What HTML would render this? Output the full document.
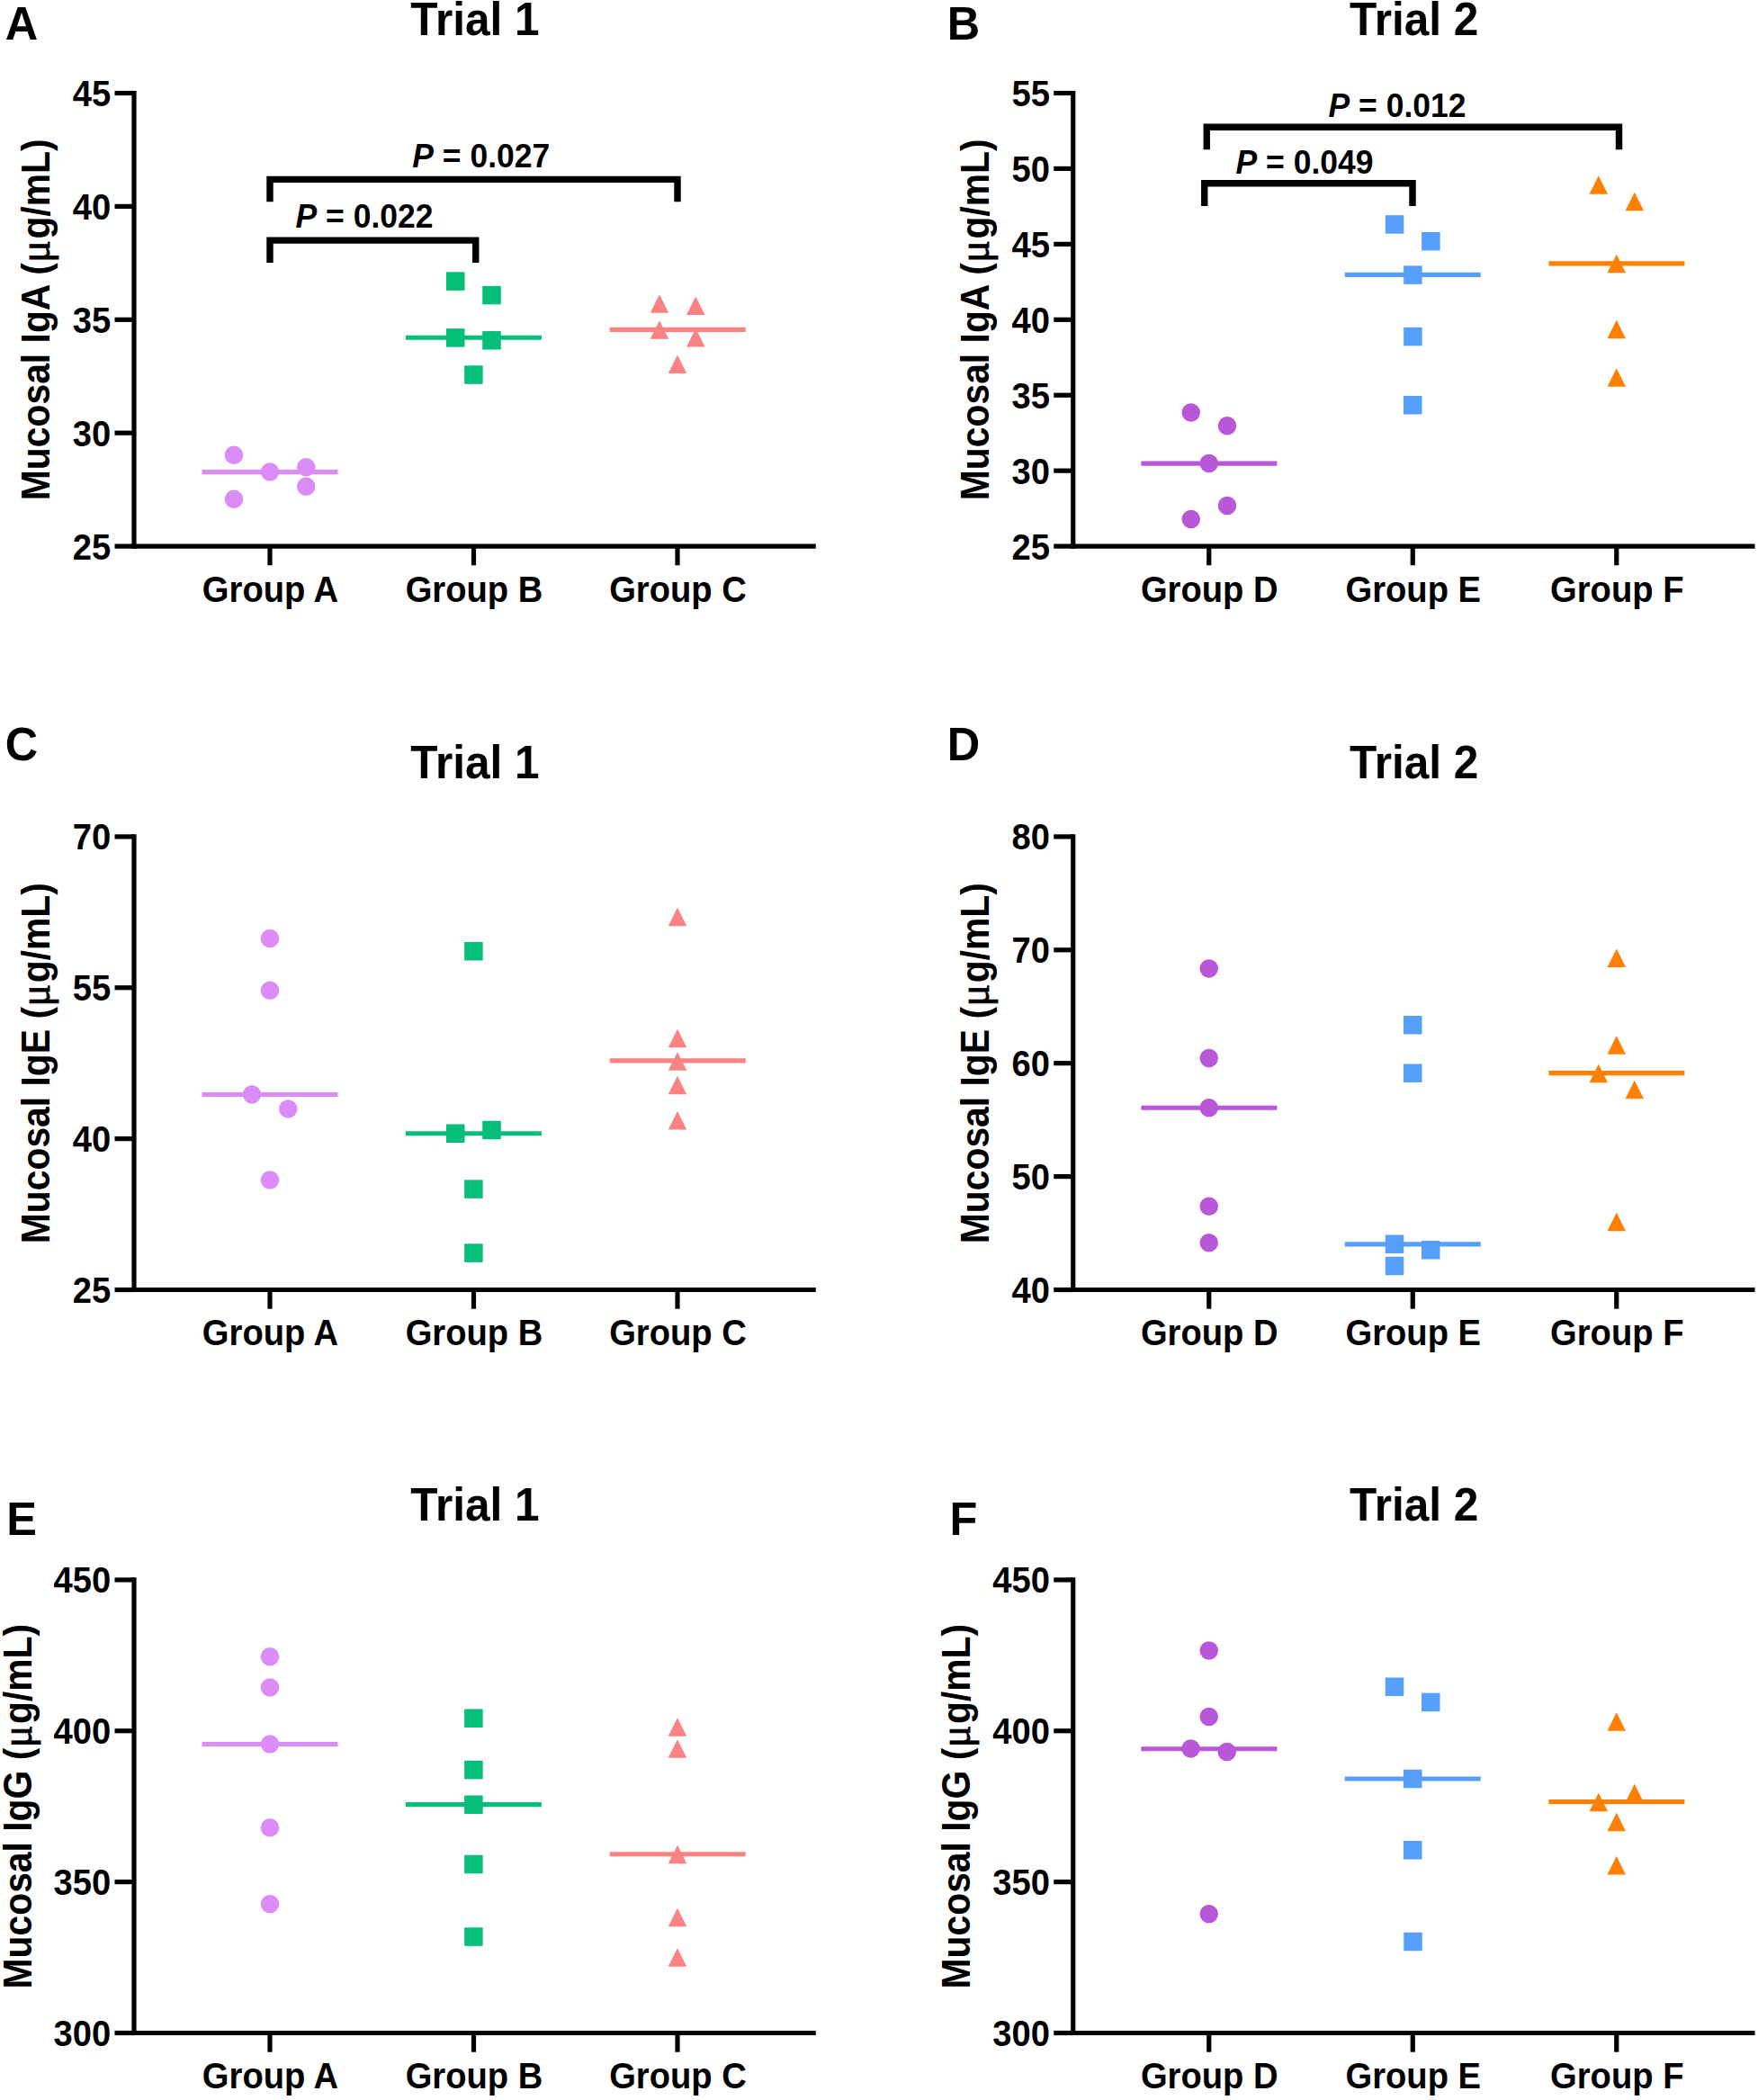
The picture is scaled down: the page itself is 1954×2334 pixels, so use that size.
<!DOCTYPE html>
<html lang="en"><head><meta charset="utf-8"><title>Mucosal immunoglobulin levels</title>
<style>html,body{margin:0;padding:0;background:#fff}svg{display:block}text{font-family:"Liberation Sans", Arial, Helvetica, sans-serif;font-weight:700;fill:#000}</style>
</head><body>
<svg width="1954" height="2334" viewBox="0 0 1954 2334">
<rect width="1954" height="2334" fill="#fff"/>
<g stroke="#000" stroke-width="5.2" fill="none">
<line x1="149.0" y1="100.90" x2="149.0" y2="609.70"/>
<line x1="146.40" y1="607.10" x2="906.75" y2="607.10"/>
<line x1="127.50" y1="103.50" x2="149.0" y2="103.50"/>
<line x1="127.50" y1="229.40" x2="149.0" y2="229.40"/>
<line x1="127.50" y1="355.30" x2="149.0" y2="355.30"/>
<line x1="127.50" y1="481.20" x2="149.0" y2="481.20"/>
<line x1="127.50" y1="607.10" x2="149.0" y2="607.10"/>
<line x1="300.00" y1="607.10" x2="300.00" y2="628.30"/>
<line x1="526.50" y1="607.10" x2="526.50" y2="628.30"/>
<line x1="753.00" y1="607.10" x2="753.00" y2="628.30"/>
</g>
<text transform="translate(123.20,118.00) scale(1,1.0405)" font-size="38.2" text-anchor="end">45</text>
<text transform="translate(123.20,243.90) scale(1,1.0405)" font-size="38.2" text-anchor="end">40</text>
<text transform="translate(123.20,369.80) scale(1,1.0405)" font-size="38.2" text-anchor="end">35</text>
<text transform="translate(123.20,495.70) scale(1,1.0405)" font-size="38.2" text-anchor="end">30</text>
<text transform="translate(123.20,621.60) scale(1,1.0405)" font-size="38.2" text-anchor="end">25</text>
<text transform="translate(300.50,668.80) scale(1,1.0405)" font-size="38.2" text-anchor="middle">Group A</text>
<text transform="translate(527.00,668.80) scale(1,1.0405)" font-size="38.2" text-anchor="middle">Group B</text>
<text transform="translate(753.50,668.80) scale(1,1.0405)" font-size="38.2" text-anchor="middle">Group C</text>
<text transform="translate(528.00,38.75) scale(1,1.0405)" font-size="49.6" text-anchor="middle">Trial 1</text>
<text transform="translate(55.00,355.30) rotate(-90) scale(1,1.065)" font-size="40.85" text-anchor="middle">Mucosal IgA (<tspan font-family="'Liberation Serif', 'DejaVu Serif', serif" font-weight="400" font-size="46" dx="0.5" stroke="#000" stroke-width="0.8">μ</tspan><tspan dx="1.5">g/mL)</tspan></text>
<line x1="224.50" y1="524.60" x2="375.50" y2="524.60" stroke="#DC8CF8" stroke-width="5.2"/>
<circle cx="260.00" cy="505.75" r="10.25" fill="#DC8CF8"/>
<circle cx="300.00" cy="524.50" r="10.25" fill="#DC8CF8"/>
<circle cx="340.25" cy="519.25" r="10.25" fill="#DC8CF8"/>
<circle cx="340.25" cy="540.75" r="10.25" fill="#DC8CF8"/>
<circle cx="260.00" cy="554.75" r="10.25" fill="#DC8CF8"/>
<line x1="450.90" y1="375.25" x2="601.90" y2="375.25" stroke="#05BE78" stroke-width="5.2"/>
<rect x="496.00" y="302.35" width="20.5" height="20.5" fill="#05BE78"/>
<rect x="536.25" y="317.85" width="20.5" height="20.5" fill="#05BE78"/>
<rect x="496.00" y="365.15" width="20.5" height="20.5" fill="#05BE78"/>
<rect x="536.25" y="368.00" width="20.5" height="20.5" fill="#05BE78"/>
<rect x="516.15" y="406.25" width="20.5" height="20.5" fill="#05BE78"/>
<line x1="677.75" y1="366.40" x2="828.75" y2="366.40" stroke="#FA8282" stroke-width="5.2"/>
<polygon points="733.00,327.35 743.25,347.85 722.75,347.85" fill="#FA8282"/>
<polygon points="773.25,329.50 783.50,350.00 763.00,350.00" fill="#FA8282"/>
<polygon points="733.00,356.35 743.25,376.85 722.75,376.85" fill="#FA8282"/>
<polygon points="773.25,365.00 783.50,385.50 763.00,385.50" fill="#FA8282"/>
<polygon points="753.00,394.50 763.25,415.00 742.75,415.00" fill="#FA8282"/>
<polyline points="300.00,292.00 300.00,267.10 528.75,267.10 528.75,292.00" fill="none" stroke="#000" stroke-width="7.4" stroke-linejoin="miter"/>
<polyline points="300.00,224.20 300.00,199.40 753.00,199.40 753.00,224.20" fill="none" stroke="#000" stroke-width="7.4" stroke-linejoin="miter"/>
<text transform="translate(328.50,253.00) scale(1,1.0405)" font-size="35.5" text-anchor="start"><tspan font-style="italic">P</tspan> = 0.022</text>
<text transform="translate(458.30,185.50) scale(1,1.0405)" font-size="35.5" text-anchor="start"><tspan font-style="italic">P</tspan> = 0.027</text>
<text transform="translate(24.00,43.75) scale(1,1.0405)" font-size="50.5" text-anchor="middle">A</text>
<g stroke="#000" stroke-width="5.2" fill="none">
<line x1="1192.75" y1="100.90" x2="1192.75" y2="609.70"/>
<line x1="1190.15" y1="607.10" x2="1950.50" y2="607.10"/>
<line x1="1171.25" y1="103.50" x2="1192.75" y2="103.50"/>
<line x1="1171.25" y1="187.43" x2="1192.75" y2="187.43"/>
<line x1="1171.25" y1="271.37" x2="1192.75" y2="271.37"/>
<line x1="1171.25" y1="355.30" x2="1192.75" y2="355.30"/>
<line x1="1171.25" y1="439.23" x2="1192.75" y2="439.23"/>
<line x1="1171.25" y1="523.17" x2="1192.75" y2="523.17"/>
<line x1="1171.25" y1="607.10" x2="1192.75" y2="607.10"/>
<line x1="1343.75" y1="607.10" x2="1343.75" y2="628.30"/>
<line x1="1570.25" y1="607.10" x2="1570.25" y2="628.30"/>
<line x1="1796.75" y1="607.10" x2="1796.75" y2="628.30"/>
</g>
<text transform="translate(1166.95,118.00) scale(1,1.0405)" font-size="38.2" text-anchor="end">55</text>
<text transform="translate(1166.95,201.93) scale(1,1.0405)" font-size="38.2" text-anchor="end">50</text>
<text transform="translate(1166.95,285.87) scale(1,1.0405)" font-size="38.2" text-anchor="end">45</text>
<text transform="translate(1166.95,369.80) scale(1,1.0405)" font-size="38.2" text-anchor="end">40</text>
<text transform="translate(1166.95,453.73) scale(1,1.0405)" font-size="38.2" text-anchor="end">35</text>
<text transform="translate(1166.95,537.67) scale(1,1.0405)" font-size="38.2" text-anchor="end">30</text>
<text transform="translate(1166.95,621.60) scale(1,1.0405)" font-size="38.2" text-anchor="end">25</text>
<text transform="translate(1344.25,668.80) scale(1,1.0405)" font-size="38.2" text-anchor="middle">Group D</text>
<text transform="translate(1570.75,668.80) scale(1,1.0405)" font-size="38.2" text-anchor="middle">Group E</text>
<text transform="translate(1797.25,668.80) scale(1,1.0405)" font-size="38.2" text-anchor="middle">Group F</text>
<text transform="translate(1571.75,38.75) scale(1,1.0405)" font-size="49.6" text-anchor="middle">Trial 2</text>
<text transform="translate(1098.75,355.30) rotate(-90) scale(1,1.065)" font-size="40.85" text-anchor="middle">Mucosal IgA (<tspan font-family="'Liberation Serif', 'DejaVu Serif', serif" font-weight="400" font-size="46" dx="0.5" stroke="#000" stroke-width="0.8">μ</tspan><tspan dx="1.5">g/mL)</tspan></text>
<line x1="1268.40" y1="515.10" x2="1419.40" y2="515.10" stroke="#B857D7" stroke-width="5.2"/>
<circle cx="1323.75" cy="458.50" r="10.25" fill="#B857D7"/>
<circle cx="1364.00" cy="473.25" r="10.25" fill="#B857D7"/>
<circle cx="1343.75" cy="515.00" r="10.25" fill="#B857D7"/>
<circle cx="1364.00" cy="562.00" r="10.25" fill="#B857D7"/>
<circle cx="1323.75" cy="577.00" r="10.25" fill="#B857D7"/>
<line x1="1494.75" y1="305.40" x2="1645.75" y2="305.40" stroke="#56A0FB" stroke-width="5.2"/>
<rect x="1539.85" y="239.20" width="20.5" height="20.5" fill="#56A0FB"/>
<rect x="1580.15" y="257.95" width="20.5" height="20.5" fill="#56A0FB"/>
<rect x="1560.15" y="295.35" width="20.5" height="20.5" fill="#56A0FB"/>
<rect x="1560.15" y="363.85" width="20.5" height="20.5" fill="#56A0FB"/>
<rect x="1560.00" y="440.00" width="20.5" height="20.5" fill="#56A0FB"/>
<line x1="1721.40" y1="292.90" x2="1872.40" y2="292.90" stroke="#FF8000" stroke-width="5.2"/>
<polygon points="1776.75,195.35 1787.00,215.85 1766.50,215.85" fill="#FF8000"/>
<polygon points="1816.75,213.85 1827.00,234.35 1806.50,234.35" fill="#FF8000"/>
<polygon points="1796.75,282.85 1807.00,303.35 1786.50,303.35" fill="#FF8000"/>
<polygon points="1796.75,355.75 1807.00,376.25 1786.50,376.25" fill="#FF8000"/>
<polygon points="1796.75,409.15 1807.00,429.65 1786.50,429.65" fill="#FF8000"/>
<polyline points="1338.75,229.00 1338.75,203.75 1570.00,203.75 1570.00,229.00" fill="none" stroke="#000" stroke-width="7.4" stroke-linejoin="miter"/>
<polyline points="1341.25,166.30 1341.25,141.25 1799.50,141.25 1799.50,166.30" fill="none" stroke="#000" stroke-width="7.4" stroke-linejoin="miter"/>
<text transform="translate(1373.50,192.50) scale(1,1.0405)" font-size="35.5" text-anchor="start"><tspan font-style="italic">P</tspan> = 0.049</text>
<text transform="translate(1476.50,130.00) scale(1,1.0405)" font-size="35.5" text-anchor="start"><tspan font-style="italic">P</tspan> = 0.012</text>
<text transform="translate(1071.00,43.75) scale(1,1.0405)" font-size="50.5" text-anchor="middle">B</text>
<g stroke="#000" stroke-width="5.2" fill="none">
<line x1="149.0" y1="927.30" x2="149.0" y2="1436.10"/>
<line x1="146.40" y1="1433.50" x2="906.75" y2="1433.50"/>
<line x1="127.50" y1="929.90" x2="149.0" y2="929.90"/>
<line x1="127.50" y1="1097.77" x2="149.0" y2="1097.77"/>
<line x1="127.50" y1="1265.63" x2="149.0" y2="1265.63"/>
<line x1="127.50" y1="1433.50" x2="149.0" y2="1433.50"/>
<line x1="300.00" y1="1433.50" x2="300.00" y2="1454.70"/>
<line x1="526.50" y1="1433.50" x2="526.50" y2="1454.70"/>
<line x1="753.00" y1="1433.50" x2="753.00" y2="1454.70"/>
</g>
<text transform="translate(123.20,944.40) scale(1,1.0405)" font-size="38.2" text-anchor="end">70</text>
<text transform="translate(123.20,1112.27) scale(1,1.0405)" font-size="38.2" text-anchor="end">55</text>
<text transform="translate(123.20,1280.13) scale(1,1.0405)" font-size="38.2" text-anchor="end">40</text>
<text transform="translate(123.20,1448.00) scale(1,1.0405)" font-size="38.2" text-anchor="end">25</text>
<text transform="translate(300.50,1495.20) scale(1,1.0405)" font-size="38.2" text-anchor="middle">Group A</text>
<text transform="translate(527.00,1495.20) scale(1,1.0405)" font-size="38.2" text-anchor="middle">Group B</text>
<text transform="translate(753.50,1495.20) scale(1,1.0405)" font-size="38.2" text-anchor="middle">Group C</text>
<text transform="translate(528.00,864.61) scale(1,1.0405)" font-size="49.6" text-anchor="middle">Trial 1</text>
<text transform="translate(55.00,1181.70) rotate(-90) scale(1,1.065)" font-size="40.85" text-anchor="middle">Mucosal IgE (<tspan font-family="'Liberation Serif', 'DejaVu Serif', serif" font-weight="400" font-size="46" dx="0.5" stroke="#000" stroke-width="0.8">μ</tspan><tspan dx="1.5">g/mL)</tspan></text>
<line x1="224.50" y1="1216.50" x2="375.50" y2="1216.50" stroke="#DC8CF8" stroke-width="5.2"/>
<circle cx="300.00" cy="1043.00" r="10.25" fill="#DC8CF8"/>
<circle cx="300.00" cy="1100.75" r="10.25" fill="#DC8CF8"/>
<circle cx="280.00" cy="1216.50" r="10.25" fill="#DC8CF8"/>
<circle cx="320.25" cy="1232.50" r="10.25" fill="#DC8CF8"/>
<circle cx="300.00" cy="1311.40" r="10.25" fill="#DC8CF8"/>
<line x1="450.90" y1="1259.75" x2="601.90" y2="1259.75" stroke="#05BE78" stroke-width="5.2"/>
<rect x="516.15" y="1047.00" width="20.5" height="20.5" fill="#05BE78"/>
<rect x="496.00" y="1249.50" width="20.5" height="20.5" fill="#05BE78"/>
<rect x="536.25" y="1245.75" width="20.5" height="20.5" fill="#05BE78"/>
<rect x="516.15" y="1311.35" width="20.5" height="20.5" fill="#05BE78"/>
<rect x="516.15" y="1382.35" width="20.5" height="20.5" fill="#05BE78"/>
<line x1="677.75" y1="1178.90" x2="828.75" y2="1178.90" stroke="#FA8282" stroke-width="5.2"/>
<polygon points="753.00,1008.65 763.25,1029.15 742.75,1029.15" fill="#FA8282"/>
<polygon points="753.00,1143.65 763.25,1164.15 742.75,1164.15" fill="#FA8282"/>
<polygon points="753.00,1169.15 763.25,1189.65 742.75,1189.65" fill="#FA8282"/>
<polygon points="753.00,1195.65 763.25,1216.15 742.75,1216.15" fill="#FA8282"/>
<polygon points="753.00,1235.00 763.25,1255.50 742.75,1255.50" fill="#FA8282"/>
<text transform="translate(24.00,845.30) scale(1,1.0405)" font-size="50.5" text-anchor="middle">C</text>
<g stroke="#000" stroke-width="5.2" fill="none">
<line x1="1192.75" y1="927.30" x2="1192.75" y2="1436.10"/>
<line x1="1190.15" y1="1433.50" x2="1950.50" y2="1433.50"/>
<line x1="1171.25" y1="929.90" x2="1192.75" y2="929.90"/>
<line x1="1171.25" y1="1055.80" x2="1192.75" y2="1055.80"/>
<line x1="1171.25" y1="1181.70" x2="1192.75" y2="1181.70"/>
<line x1="1171.25" y1="1307.60" x2="1192.75" y2="1307.60"/>
<line x1="1171.25" y1="1433.50" x2="1192.75" y2="1433.50"/>
<line x1="1343.75" y1="1433.50" x2="1343.75" y2="1454.70"/>
<line x1="1570.25" y1="1433.50" x2="1570.25" y2="1454.70"/>
<line x1="1796.75" y1="1433.50" x2="1796.75" y2="1454.70"/>
</g>
<text transform="translate(1166.95,944.40) scale(1,1.0405)" font-size="38.2" text-anchor="end">80</text>
<text transform="translate(1166.95,1070.30) scale(1,1.0405)" font-size="38.2" text-anchor="end">70</text>
<text transform="translate(1166.95,1196.20) scale(1,1.0405)" font-size="38.2" text-anchor="end">60</text>
<text transform="translate(1166.95,1322.10) scale(1,1.0405)" font-size="38.2" text-anchor="end">50</text>
<text transform="translate(1166.95,1448.00) scale(1,1.0405)" font-size="38.2" text-anchor="end">40</text>
<text transform="translate(1344.25,1495.20) scale(1,1.0405)" font-size="38.2" text-anchor="middle">Group D</text>
<text transform="translate(1570.75,1495.20) scale(1,1.0405)" font-size="38.2" text-anchor="middle">Group E</text>
<text transform="translate(1797.25,1495.20) scale(1,1.0405)" font-size="38.2" text-anchor="middle">Group F</text>
<text transform="translate(1571.75,864.61) scale(1,1.0405)" font-size="49.6" text-anchor="middle">Trial 2</text>
<text transform="translate(1098.75,1181.70) rotate(-90) scale(1,1.065)" font-size="40.85" text-anchor="middle">Mucosal IgE (<tspan font-family="'Liberation Serif', 'DejaVu Serif', serif" font-weight="400" font-size="46" dx="0.5" stroke="#000" stroke-width="0.8">μ</tspan><tspan dx="1.5">g/mL)</tspan></text>
<line x1="1268.40" y1="1231.25" x2="1419.40" y2="1231.25" stroke="#B857D7" stroke-width="5.2"/>
<circle cx="1343.75" cy="1076.40" r="10.25" fill="#B857D7"/>
<circle cx="1343.75" cy="1176.00" r="10.25" fill="#B857D7"/>
<circle cx="1343.75" cy="1231.25" r="10.25" fill="#B857D7"/>
<circle cx="1343.75" cy="1340.75" r="10.25" fill="#B857D7"/>
<circle cx="1343.75" cy="1381.25" r="10.25" fill="#B857D7"/>
<line x1="1494.75" y1="1382.90" x2="1645.75" y2="1382.90" stroke="#56A0FB" stroke-width="5.2"/>
<rect x="1560.00" y="1129.00" width="20.5" height="20.5" fill="#56A0FB"/>
<rect x="1560.00" y="1182.50" width="20.5" height="20.5" fill="#56A0FB"/>
<rect x="1539.75" y="1372.50" width="20.5" height="20.5" fill="#56A0FB"/>
<rect x="1580.00" y="1379.00" width="20.5" height="20.5" fill="#56A0FB"/>
<rect x="1539.75" y="1396.75" width="20.5" height="20.5" fill="#56A0FB"/>
<line x1="1721.40" y1="1192.60" x2="1872.40" y2="1192.60" stroke="#FF8000" stroke-width="5.2"/>
<polygon points="1796.75,1054.50 1807.00,1075.00 1786.50,1075.00" fill="#FF8000"/>
<polygon points="1796.75,1151.25 1807.00,1171.75 1786.50,1171.75" fill="#FF8000"/>
<polygon points="1776.75,1182.65 1787.00,1203.15 1766.50,1203.15" fill="#FF8000"/>
<polygon points="1816.75,1200.65 1827.00,1221.15 1806.50,1221.15" fill="#FF8000"/>
<polygon points="1796.75,1347.75 1807.00,1368.25 1786.50,1368.25" fill="#FF8000"/>
<text transform="translate(1071.00,845.30) scale(1,1.0405)" font-size="50.5" text-anchor="middle">D</text>
<g stroke="#000" stroke-width="5.2" fill="none">
<line x1="149.0" y1="1753.30" x2="149.0" y2="2262.10"/>
<line x1="146.40" y1="2259.50" x2="906.75" y2="2259.50"/>
<line x1="127.50" y1="1755.90" x2="149.0" y2="1755.90"/>
<line x1="127.50" y1="1923.77" x2="149.0" y2="1923.77"/>
<line x1="127.50" y1="2091.63" x2="149.0" y2="2091.63"/>
<line x1="127.50" y1="2259.50" x2="149.0" y2="2259.50"/>
<line x1="300.00" y1="2259.50" x2="300.00" y2="2280.70"/>
<line x1="526.50" y1="2259.50" x2="526.50" y2="2280.70"/>
<line x1="753.00" y1="2259.50" x2="753.00" y2="2280.70"/>
</g>
<text transform="translate(123.20,1770.40) scale(1,1.0405)" font-size="38.2" text-anchor="end">450</text>
<text transform="translate(123.20,1938.27) scale(1,1.0405)" font-size="38.2" text-anchor="end">400</text>
<text transform="translate(123.20,2106.13) scale(1,1.0405)" font-size="38.2" text-anchor="end">350</text>
<text transform="translate(123.20,2274.00) scale(1,1.0405)" font-size="38.2" text-anchor="end">300</text>
<text transform="translate(300.50,2321.20) scale(1,1.0405)" font-size="38.2" text-anchor="middle">Group A</text>
<text transform="translate(527.00,2321.20) scale(1,1.0405)" font-size="38.2" text-anchor="middle">Group B</text>
<text transform="translate(753.50,2321.20) scale(1,1.0405)" font-size="38.2" text-anchor="middle">Group C</text>
<text transform="translate(528.00,1690.08) scale(1,1.0405)" font-size="49.6" text-anchor="middle">Trial 1</text>
<text transform="translate(34.70,2007.70) rotate(-90) scale(1,1.065)" font-size="40.85" text-anchor="middle">Mucosal IgG (<tspan font-family="'Liberation Serif', 'DejaVu Serif', serif" font-weight="400" font-size="46" dx="0.5" stroke="#000" stroke-width="0.8">μ</tspan><tspan dx="1.5">g/mL)</tspan></text>
<line x1="224.50" y1="1938.50" x2="375.50" y2="1938.50" stroke="#DC8CF8" stroke-width="5.2"/>
<circle cx="300.00" cy="1841.25" r="10.25" fill="#DC8CF8"/>
<circle cx="300.00" cy="1875.60" r="10.25" fill="#DC8CF8"/>
<circle cx="300.00" cy="1938.50" r="10.25" fill="#DC8CF8"/>
<circle cx="300.00" cy="2031.25" r="10.25" fill="#DC8CF8"/>
<circle cx="300.00" cy="2116.25" r="10.25" fill="#DC8CF8"/>
<line x1="450.90" y1="2005.60" x2="601.90" y2="2005.60" stroke="#05BE78" stroke-width="5.2"/>
<rect x="516.15" y="1899.50" width="20.5" height="20.5" fill="#05BE78"/>
<rect x="516.15" y="1956.85" width="20.5" height="20.5" fill="#05BE78"/>
<rect x="516.15" y="1995.50" width="20.5" height="20.5" fill="#05BE78"/>
<rect x="516.15" y="2061.75" width="20.5" height="20.5" fill="#05BE78"/>
<rect x="516.15" y="2142.25" width="20.5" height="20.5" fill="#05BE78"/>
<line x1="677.75" y1="2060.75" x2="828.75" y2="2060.75" stroke="#FA8282" stroke-width="5.2"/>
<polygon points="753.00,1909.15 763.25,1929.65 742.75,1929.65" fill="#FA8282"/>
<polygon points="753.00,1933.15 763.25,1953.65 742.75,1953.65" fill="#FA8282"/>
<polygon points="753.00,2050.65 763.25,2071.15 742.75,2071.15" fill="#FA8282"/>
<polygon points="753.00,2120.75 763.25,2141.25 742.75,2141.25" fill="#FA8282"/>
<polygon points="753.00,2165.25 763.25,2185.75 742.75,2185.75" fill="#FA8282"/>
<text transform="translate(24.00,1706.25) scale(1,1.0405)" font-size="50.5" text-anchor="middle">E</text>
<g stroke="#000" stroke-width="5.2" fill="none">
<line x1="1192.75" y1="1753.30" x2="1192.75" y2="2262.10"/>
<line x1="1190.15" y1="2259.50" x2="1950.50" y2="2259.50"/>
<line x1="1171.25" y1="1755.90" x2="1192.75" y2="1755.90"/>
<line x1="1171.25" y1="1923.77" x2="1192.75" y2="1923.77"/>
<line x1="1171.25" y1="2091.63" x2="1192.75" y2="2091.63"/>
<line x1="1171.25" y1="2259.50" x2="1192.75" y2="2259.50"/>
<line x1="1343.75" y1="2259.50" x2="1343.75" y2="2280.70"/>
<line x1="1570.25" y1="2259.50" x2="1570.25" y2="2280.70"/>
<line x1="1796.75" y1="2259.50" x2="1796.75" y2="2280.70"/>
</g>
<text transform="translate(1166.95,1770.40) scale(1,1.0405)" font-size="38.2" text-anchor="end">450</text>
<text transform="translate(1166.95,1938.27) scale(1,1.0405)" font-size="38.2" text-anchor="end">400</text>
<text transform="translate(1166.95,2106.13) scale(1,1.0405)" font-size="38.2" text-anchor="end">350</text>
<text transform="translate(1166.95,2274.00) scale(1,1.0405)" font-size="38.2" text-anchor="end">300</text>
<text transform="translate(1344.25,2321.20) scale(1,1.0405)" font-size="38.2" text-anchor="middle">Group D</text>
<text transform="translate(1570.75,2321.20) scale(1,1.0405)" font-size="38.2" text-anchor="middle">Group E</text>
<text transform="translate(1797.25,2321.20) scale(1,1.0405)" font-size="38.2" text-anchor="middle">Group F</text>
<text transform="translate(1571.75,1690.08) scale(1,1.0405)" font-size="49.6" text-anchor="middle">Trial 2</text>
<text transform="translate(1078.45,2007.70) rotate(-90) scale(1,1.065)" font-size="40.85" text-anchor="middle">Mucosal IgG (<tspan font-family="'Liberation Serif', 'DejaVu Serif', serif" font-weight="400" font-size="46" dx="0.5" stroke="#000" stroke-width="0.8">μ</tspan><tspan dx="1.5">g/mL)</tspan></text>
<line x1="1268.40" y1="1943.75" x2="1419.40" y2="1943.75" stroke="#B857D7" stroke-width="5.2"/>
<circle cx="1343.75" cy="1834.60" r="10.25" fill="#B857D7"/>
<circle cx="1343.75" cy="1908.10" r="10.25" fill="#B857D7"/>
<circle cx="1323.50" cy="1943.60" r="10.25" fill="#B857D7"/>
<circle cx="1363.75" cy="1946.90" r="10.25" fill="#B857D7"/>
<circle cx="1343.75" cy="2127.25" r="10.25" fill="#B857D7"/>
<line x1="1494.75" y1="1977.00" x2="1645.75" y2="1977.00" stroke="#56A0FB" stroke-width="5.2"/>
<rect x="1539.75" y="1864.50" width="20.5" height="20.5" fill="#56A0FB"/>
<rect x="1580.00" y="1881.65" width="20.5" height="20.5" fill="#56A0FB"/>
<rect x="1560.00" y="1966.75" width="20.5" height="20.5" fill="#56A0FB"/>
<rect x="1560.00" y="2046.00" width="20.5" height="20.5" fill="#56A0FB"/>
<rect x="1560.25" y="2147.75" width="20.5" height="20.5" fill="#56A0FB"/>
<line x1="1721.40" y1="2002.50" x2="1872.40" y2="2002.50" stroke="#FF8000" stroke-width="5.2"/>
<polygon points="1796.75,1903.25 1807.00,1923.75 1786.50,1923.75" fill="#FF8000"/>
<polygon points="1816.75,1982.85 1827.00,2003.35 1806.50,2003.35" fill="#FF8000"/>
<polygon points="1776.75,1992.65 1787.00,2013.15 1766.50,2013.15" fill="#FF8000"/>
<polygon points="1796.75,2014.75 1807.00,2035.25 1786.50,2035.25" fill="#FF8000"/>
<polygon points="1796.75,2063.00 1807.00,2083.50 1786.50,2083.50" fill="#FF8000"/>
<text transform="translate(1071.00,1706.25) scale(1,1.0405)" font-size="50.5" text-anchor="middle">F</text>
</svg></body></html>
